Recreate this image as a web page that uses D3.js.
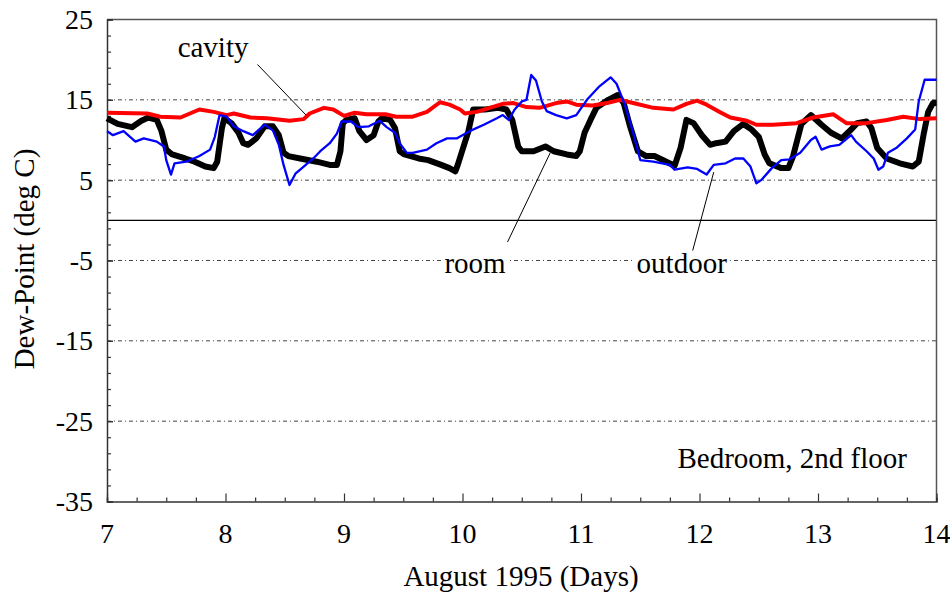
<!DOCTYPE html>
<html><head><meta charset="utf-8">
<script src="https://cdn.jsdelivr.net/npm/d3@7"></script>
<style>body{margin:0;background:#fff}svg{display:block}text{font-family:"Liberation Serif","Times New Roman",serif;fill:#000}</style>
</head><body>
<svg id="c" width="950" height="602"></svg>
<script>
const roomDays = [7.00,7.09,7.21,7.29,7.35,7.42,7.46,7.50,7.55,7.66,7.74,7.83,7.90,7.93,7.97,7.99,8.05,8.11,8.15,8.19,8.26,8.33,8.40,8.45,8.49,8.53,8.63,8.77,8.88,8.94,8.97,8.99,9.02,9.09,9.13,9.19,9.25,9.29,9.32,9.39,9.43,9.47,9.51,9.63,9.71,9.82,9.89,9.94,9.96,10.05,10.09,10.19,10.30,10.37,10.42,10.47,10.50,10.60,10.70,10.77,10.88,10.96,10.99,11.03,11.08,11.13,11.23,11.31,11.36,11.41,11.48,11.55,11.62,11.72,11.79,11.84,11.89,11.95,12.02,12.09,12.14,12.22,12.29,12.37,12.44,12.50,12.55,12.59,12.69,12.75,12.79,12.86,12.94,13.03,13.11,13.20,13.28,13.33,13.41,13.45,13.50,13.58,13.69,13.80,13.85,13.89,13.93,13.97,14.00];
const roomVals = [12.7,12.0,11.6,12.4,12.8,12.5,11.1,8.8,8.2,7.7,7.3,6.7,6.5,7.3,11.5,12.7,12.1,10.9,9.6,9.4,10.2,11.7,11.7,10.6,8.4,8.0,7.7,7.3,6.9,6.9,8.6,12.1,12.5,12.7,11.1,10.0,10.6,12.3,12.7,12.5,11.5,8.6,8.2,7.7,7.5,6.9,6.5,6.1,6.9,11.1,13.8,13.8,14.0,13.8,12.5,9.2,8.6,8.6,9.2,8.6,8.2,8.0,8.6,10.9,12.5,14.0,15.0,15.6,14.6,11.9,8.6,8.0,8.0,7.3,6.8,9.0,12.5,12.1,10.6,9.4,9.6,9.8,11.1,12.0,11.3,10.4,8.2,7.1,6.5,6.5,8.0,12.0,13.1,11.9,10.9,10.2,11.3,12.1,12.3,11.5,9.0,7.7,7.1,6.7,7.3,10.6,13.5,14.6,14.6];

const cavityDays = [7.00,7.34,7.45,7.62,7.78,7.90,8.01,8.07,8.21,8.35,8.54,8.66,8.71,8.83,8.91,9.00,9.09,9.19,9.35,9.44,9.58,9.70,9.81,9.89,9.98,10.02,10.12,10.23,10.34,10.43,10.54,10.65,10.79,10.88,10.96,11.10,11.22,11.33,11.44,11.61,11.78,11.89,11.98,12.06,12.17,12.26,12.40,12.48,12.62,12.82,12.96,13.13,13.24,13.41,13.58,13.72,13.86,14.00];
const cavityVals = [13.4,13.3,12.9,12.8,13.8,13.5,13.1,13.3,12.8,12.7,12.4,12.6,13.3,14.0,13.8,13.0,13.4,13.2,13.2,12.9,12.9,13.5,14.7,14.4,13.8,13.3,13.5,14.0,14.5,14.6,14.1,14.0,14.6,14.8,14.4,14.3,14.6,15.0,14.6,14.0,13.8,14.5,14.9,14.4,13.5,12.8,12.4,11.9,11.9,12.1,12.8,13.2,12.1,12.1,12.5,12.9,12.6,12.7];

const outdoorDays = [7.00,7.05,7.14,7.24,7.31,7.42,7.48,7.50,7.54,7.57,7.67,7.78,7.87,7.91,7.95,8.01,8.07,8.15,8.23,8.33,8.40,8.45,8.49,8.54,8.59,8.66,8.74,8.80,8.88,8.94,8.98,9.06,9.12,9.21,9.30,9.36,9.43,9.47,9.53,9.58,9.70,9.78,9.87,9.95,10.06,10.18,10.29,10.34,10.39,10.44,10.50,10.54,10.58,10.62,10.67,10.71,10.79,10.88,10.96,11.05,11.15,11.25,11.30,11.37,11.44,11.50,11.61,11.75,11.79,11.90,11.98,12.06,12.12,12.22,12.30,12.37,12.43,12.48,12.52,12.61,12.69,12.76,12.85,12.94,12.98,13.03,13.10,13.18,13.28,13.32,13.41,13.47,13.51,13.55,13.59,13.66,13.75,13.82,13.85,13.90,14.00];
const outdoorVals = [11.1,10.6,11.1,9.8,10.2,9.8,9.2,7.5,5.7,7.1,7.3,8.0,8.8,10.4,13.1,12.9,11.7,11.1,10.6,11.9,11.2,9.4,6.9,4.4,5.8,6.7,7.7,8.6,9.6,10.8,12.3,12.3,11.6,11.7,12.4,11.6,10.9,9.6,8.4,8.4,8.8,9.6,10.2,10.2,11.1,11.9,12.7,13.1,12.5,13.8,14.8,15.0,18.1,17.4,14.8,13.6,13.1,12.7,13.1,15.0,16.6,17.8,17.0,14.4,10.9,7.5,7.3,6.9,6.3,6.6,6.4,5.7,6.9,7.1,7.7,7.7,6.7,4.6,5.0,6.5,7.5,7.6,8.4,10.0,10.4,8.8,9.2,9.4,10.6,9.8,8.6,7.7,6.3,6.7,8.4,9.0,10.2,11.3,14.8,17.5,17.5];

const xTicks = [7,8,9,10,11,12,13,14];
const yTicks = [-35,-25,-15,-5,5,15,25];
const gridVals = [15,5,-5,-15,-25];

const svg = d3.select("#c");
const x = d3.scaleLinear().domain([7,14]).range([107,936.5]);
const y = d3.scaleLinear().domain([-35,25]).range([501.5,19.5]);
const L = 107, R = 936.5, T = 19.5, B = 501.5;

svg.append("g").selectAll("line").data(gridVals).join("line")
  .attr("x1",L).attr("x2",R).attr("y1",d=>y(d)).attr("y2",d=>y(d))
  .attr("stroke","#444").attr("stroke-width",1).attr("stroke-dasharray","4,3,1,3");
svg.append("line").attr("x1",L).attr("x2",R).attr("y1",y(0)).attr("y2",y(0))
  .attr("stroke","#000").attr("stroke-width",1.3);

svg.append("path").attr("d",`M${L},${T}H${R}V${B}`).attr("fill","none").attr("stroke","#555").attr("stroke-width",1.5);

const xAxis = d3.axisBottom(x).tickValues(d3.range(7,14.001,0.25)).tickSize(-4).tickFormat("");
const gx = svg.append("g").attr("transform",`translate(0,${B})`).call(xAxis);
gx.selectAll(".tick line").filter(d=>Math.abs(d-Math.round(d))<1e-6).attr("y2",-8);
const yAxis = d3.axisLeft(y).tickValues(d3.range(-35,25.001,2).concat(yTicks)).tickSize(-4).tickFormat("");
const gy = svg.append("g").attr("transform",`translate(${L},0)`).call(yAxis);
[gx,gy].forEach(g=>{g.select(".domain").attr("stroke","#333").attr("stroke-width",1.5);g.selectAll(".tick line").attr("stroke","#333").attr("stroke-width",1.2);});
gy.selectAll(".tick line").filter(d=>yTicks.includes(d)).attr("x2",6);

svg.append("g").selectAll("text").data(xTicks).join("text")
  .attr("x",d=>x(d)).attr("y",543).attr("text-anchor","middle").attr("font-size",28).text(d=>d);
svg.append("g").selectAll("text").data(yTicks).join("text")
  .attr("x",93).attr("y",d=>y(d)+9.5).attr("text-anchor","end").attr("font-size",28).text(d=>d);

svg.append("text").attr("x",521).attr("y",586).attr("text-anchor","middle").attr("font-size",29).text("August 1995 (Days)");
svg.append("text").attr("transform","translate(34,259) rotate(-90)").attr("text-anchor","middle").attr("font-size",29).text("Dew-Point (deg C)");

const line = d3.line().x(d=>x(d[0])).y(d=>y(d[1]));
const zip = (a,b)=>a.map((v,i)=>[v,b[i]]);
svg.append("path").datum(zip(roomDays,roomVals)).attr("d",line).attr("fill","none").attr("stroke","#000").attr("stroke-width",6).attr("stroke-linejoin","round");
svg.append("path").datum(zip(cavityDays,cavityVals)).attr("d",line).attr("fill","none").attr("stroke","#ff0000").attr("stroke-width",4).attr("stroke-linejoin","round");
svg.append("path").datum(zip(outdoorDays,outdoorVals)).attr("d",line).attr("fill","none").attr("stroke","#0000ff").attr("stroke-width",2.3).attr("stroke-linejoin","round");

const ann = [
  {label:"cavity", tx:7.895, ty:20.3, from:[8.27,19.4], to:[8.68,13.1]},
  {label:"room", tx:10.106, ty:-6.5, from:[10.38,-2.7], to:[10.74,8.4]},
  {label:"outdoor", tx:11.85, ty:-6.5, from:[11.94,-3.9], to:[12.12,6.0]}
];
ann.forEach(a=>{
  svg.append("line").attr("x1",x(a.from[0])).attr("y1",y(a.from[1])).attr("x2",x(a.to[0])).attr("y2",y(a.to[1]))
    .attr("stroke","#000").attr("stroke-width",1);
  const t = svg.append("text").attr("x",x(a.tx)).attr("y",y(a.ty)).attr("text-anchor","middle").attr("font-size",29).text(a.label);
  if(a.label!=="cavity"){
    const bb = t.node().getBBox();
    svg.insert("rect", ()=>t.node()).attr("x",bb.x-3).attr("y",bb.y+4).attr("width",bb.width+6).attr("height",bb.height-6).attr("fill","#fff");
  }
});
svg.append("text").attr("x",907).attr("y",468).attr("text-anchor","end").attr("font-size",29).text("Bedroom, 2nd floor");
</script>
</body></html>
